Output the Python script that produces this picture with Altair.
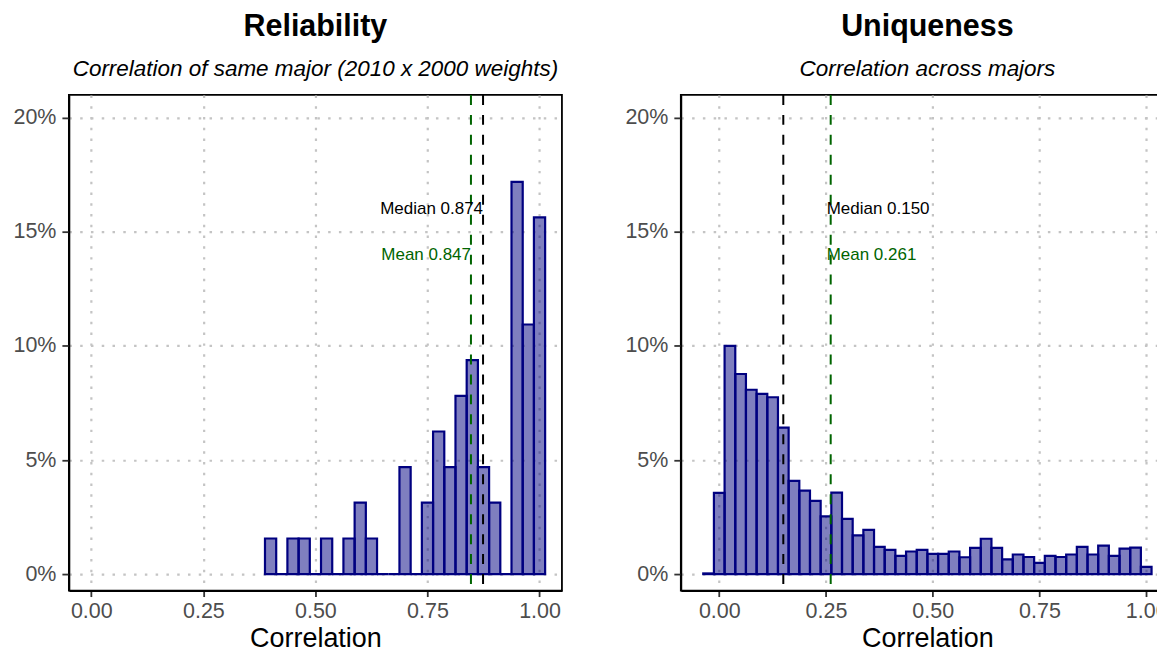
import altair as alt
import pandas as pd

# ---------------- data ----------------
BIN_WIDTH = 0.025

REL_CENTERS = [0.400, 0.425, 0.450, 0.475, 0.500, 0.525, 0.550, 0.575, 0.600,
               0.625, 0.650, 0.675, 0.700, 0.725, 0.750, 0.775, 0.800, 0.825,
               0.850, 0.875, 0.900, 0.925, 0.950, 0.975, 1.000]
REL_PCT = [1.56, 0, 1.56, 1.56, 0, 1.56, 0, 1.56, 3.13,
           1.56, 0, 0, 4.69, 0, 3.13, 6.25, 4.69, 7.81,
           9.38, 4.69, 3.13, 0, 17.19, 10.94, 15.63]

UNQ_CENTERS = [-0.025, 0.000, 0.025, 0.050, 0.075, 0.100, 0.125, 0.150, 0.175,
               0.200, 0.225, 0.250, 0.275, 0.300, 0.325, 0.350, 0.375, 0.400,
               0.425, 0.450, 0.475, 0.500, 0.525, 0.550, 0.575, 0.600, 0.625,
               0.650, 0.675, 0.700, 0.725, 0.750, 0.775, 0.800, 0.825, 0.850,
               0.875, 0.900, 0.925, 0.950, 0.975, 1.000]
UNQ_PCT = [0.03, 3.56, 10.00, 8.77, 8.08, 7.90, 7.75, 6.42, 4.09,
           3.66, 3.21, 2.53, 3.57, 2.42, 1.70, 1.94, 1.19, 1.06,
           0.80, 0.99, 1.06, 0.89, 0.89, 0.99, 0.74, 1.15, 1.55,
           1.15, 0.65, 0.86, 0.75, 0.49, 0.80, 0.75, 0.86, 1.19,
           0.86, 1.25, 0.80, 1.12, 1.16, 0.32]

REL_MEDIAN, REL_MEAN = 0.874, 0.847
UNQ_MEDIAN, UNQ_MEAN = 0.150, 0.261

X_TICKS = [0.0, 0.25, 0.5, 0.75, 1.0]
Y_TICKS = [0.0, 0.05, 0.10, 0.15, 0.20]

FONT = "Liberation Sans"
NAVY = "#000080"
GREEN = "#006400"


def hist_df(centers, pct):
    return pd.DataFrame({
        "x0": [c - BIN_WIDTH / 2 for c in centers],
        "x1": [c + BIN_WIDTH / 2 for c in centers],
        "pct": [p / 100 for p in pct],
    })


def panel(centers, pct, median, mean, title, subtitle, xdomain, width,
          label_x, label_align, label_dx):
    df = hist_df(centers, pct)
    xscale = alt.Scale(domain=xdomain, nice=False, zero=False)
    yscale = alt.Scale(domain=[-0.0072, 0.21], nice=False, zero=False)

    bars = alt.Chart(df).mark_bar(
        fill=NAVY, fillOpacity=0.5, stroke=NAVY, strokeWidth=2.2
    ).encode(
        x=alt.X("x0:Q", scale=xscale,
                axis=alt.Axis(values=X_TICKS, format=".2f", title="Correlation")),
        x2="x1:Q",
        y=alt.Y("pct:Q", scale=yscale,
                axis=alt.Axis(values=Y_TICKS, format=".0%", title=None)),
        y2=alt.datum(0),
    )

    lines_df = pd.DataFrame({
        "val": [median, mean],
        "col": ["black", GREEN],
    })
    rules = alt.Chart(lines_df).mark_rule(
        strokeDash=[10, 10], strokeWidth=2
    ).encode(
        x=alt.X("val:Q", scale=xscale),
        color=alt.Color("col:N", scale=None),
    )

    lab_df = pd.DataFrame({
        "lx": label_x,
        "ly": [0.16, 0.14],
        "txt": [f"Median {median:.3f}", f"Mean {mean:.3f}"],
        "col": ["black", GREEN],
    })
    labels = alt.Chart(lab_df).mark_text(
        align=label_align, baseline="middle", fontSize=17, font=FONT, dx=label_dx
    ).encode(
        x=alt.X("lx:Q", scale=xscale),
        y=alt.Y("ly:Q", scale=yscale),
        text="txt:N",
        color=alt.Color("col:N", scale=None),
    )

    return alt.layer(bars, rules, labels).properties(
        width=width, height=496.5,
        title=alt.TitleParams(
            text=title, subtitle=subtitle, anchor="middle", frame="group",
            font=FONT, fontSize=30.5, fontWeight="bold", color="black",
            subtitleFont=FONT, subtitleFontSize=22.5, subtitleFontStyle="italic",
            subtitleColor="black", subtitlePadding=15.5, offset=13.5,
        ),
    )


left = panel(REL_CENTERS, REL_PCT, REL_MEDIAN, REL_MEAN, "Reliability",
             "Correlation of same major (2010 x 2000 weights)",
             [-0.05, 1.05], 493.9, [REL_MEDIAN, REL_MEAN], "right", 0)
right = panel(UNQ_CENTERS, UNQ_PCT, UNQ_MEDIAN, UNQ_MEAN, "Uniqueness",
              "Correlation across majors",
              [-0.09, 1.065], 494, [UNQ_MEAN, UNQ_MEAN], "left", -4)

chart = alt.hconcat(left, right, spacing=61).properties(
    padding={"left": 4, "top": 2.5, "right": -18, "bottom": 0},
    background="white",
).configure(
    font=FONT,
).configure_axis(
    labelFont=FONT, labelFontSize=21.5, labelColor="#4D4D4D",
    titleFont=FONT, titleFontSize=27, titleColor="black", titleFontWeight="normal",
    domainColor="black", domainWidth=1.8,
    tickColor="#333333", tickWidth=1.8,
    grid=True, gridColor="#C4C4C4", gridDash=[2.5, 8.3], gridWidth=2.2,
).configure_axisX(
    tickSize=6, labelPadding=4, titlePadding=3.5,
).configure_axisY(
    tickSize=7, labelPadding=6,
).configure_view(
    stroke="black", strokeWidth=1.8,
)

chart.save("out.html", embed_options={"renderer": "svg", "actions": False})
